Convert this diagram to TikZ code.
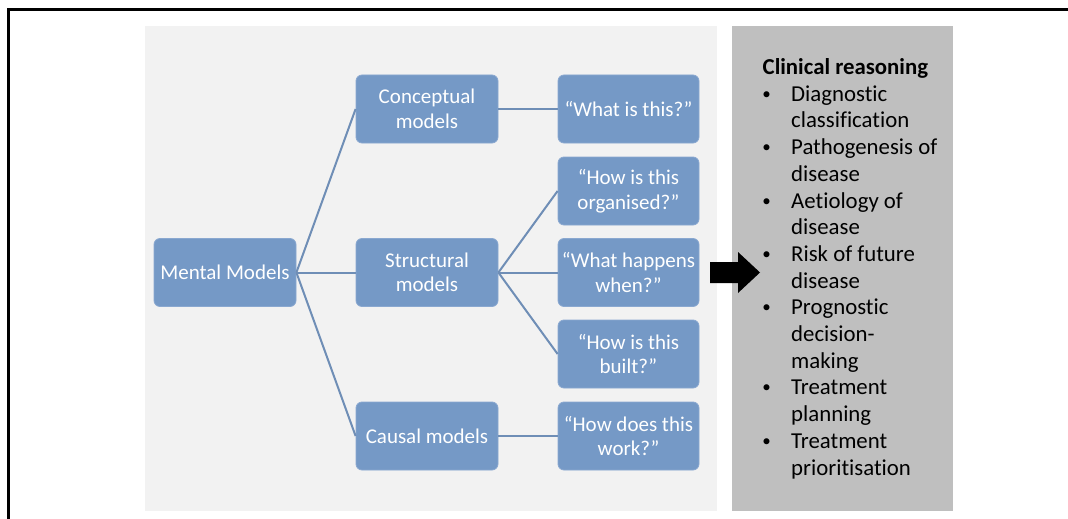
\documentclass[tikz,border=0pt]{standalone}
\usepackage{fontspec}
\setmainfont{Carlito}[Ligatures=NoCommon]
\definecolor{boxfill}{HTML}{7599C6}
\definecolor{boxedge}{HTML}{8AA8D0}
\definecolor{linkblue}{HTML}{6F8EB6}
\definecolor{panellight}{HTML}{F2F2F2}
\definecolor{paneldark}{HTML}{BFBFBF}
\begin{document}
\begin{tikzpicture}[x=1pt,y=-1pt,
  modelbox/.style={rectangle, rounded corners=6pt, fill=boxfill, draw=boxedge,
    line width=0.8pt, minimum width=142pt, minimum height=68pt, inner sep=2pt,
    align=center, text=white, font=\fontsize{21}{24.5}\selectfont},
  link/.style={draw=linkblue, line width=2pt},
  listline/.style={anchor=base west, inner sep=0pt, text=black,
    font=\fontsize{22.8}{26.7}\selectfont},
  bulletmark/.style={anchor=base, inner sep=0pt, text=black,
    font=\fontsize{17}{20}\selectfont}]
  \useasboundingbox (0,0) rectangle (1068,519);
  % frame
  \draw[line width=3pt] (1068,10) -- (8,10) -- (8,519);
  % panels
  \fill[panellight] (145,26) rectangle (717,511);
  \fill[paneldark] (732,26) rectangle (953,511);

  % tree of models
  \node[modelbox] (mental) at (225,272.5) {Mental Models};
  \node[modelbox] (concept) at (427,109) {Conceptual\\models};
  \node[modelbox] (struct) at (427,272.5) {Structural\\models};
  \node[modelbox] (causal) at (427,436) {Causal models};
  \node[modelbox, minimum width=141pt] (q1) at (628.5,109) {“What is this?”};
  \node[modelbox, minimum width=141pt] (q2) at (628.5,191) {“How is this\\organised?”};
  \node[modelbox, minimum width=141pt] (q3) at (628.5,272.5) {“What happens\\when?”};
  \node[modelbox, minimum width=141pt] (q4) at (628.5,354) {“How is this\\built?”};
  \node[modelbox, minimum width=141pt] (q5) at (628.5,436) {“How does this\\work?”};

  \draw[link] (mental.east) -- (concept.west);
  \draw[link] (mental.east) -- (struct.west);
  \draw[link] (mental.east) -- (causal.west);
  \draw[link] (concept.east) -- (q1.west);
  \draw[link] (struct.east) -- (q2.west);
  \draw[link] (struct.east) -- (q3.west);
  \draw[link] (struct.east) -- (q4.west);
  \draw[link] (causal.east) -- (q5.west);

  % block arrow
  \fill[black] (710,262) -- (738,262) -- (738,252) -- (760,272.5)
    -- (738,293) -- (738,283) -- (710,283) -- cycle;

  % clinical reasoning list
  \node[listline] (title) at (762.5,74.5) {\textbf{Clinical reasoning}};
  \foreach \txt [count=\i from 1] in {Diagnostic, classification,
      Pathogenesis of, disease, Aetiology of, disease, Risk of future, disease,
      Prognostic, decision-, making, Treatment, planning, Treatment, prioritisation}
    \node[listline] (l\i) at (791,74.5+\i*26.7) {\txt};
  \foreach \i in {1,3,5,7,9,12,14}
    \node[bulletmark] (b\i) at (766.5,72.5+\i*26.7) {•};
\end{tikzpicture}
\end{document}
